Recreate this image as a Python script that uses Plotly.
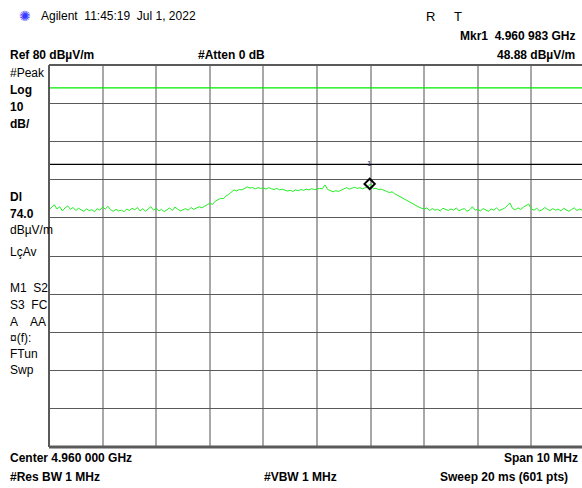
import numpy as np
import plotly.graph_objects as go

# Sweep settings
center_ghz = 4.960
span_mhz = 10.0
ref_level = 80.0
db_per_div = 10.0
display_line = 74.0
limit_line = 54.0
marker_freq_ghz = 4.960983
marker_level = 48.88

# Trace values (dBuV/m), uniformly spaced across the span
trace_dbuv = [
    42.1, 42.8, 43.4, 42.3, 42.9, 41.8, 42.6, 43.1, 42.2, 42.7,
    41.9, 42.5, 42.0, 41.7, 42.3, 41.9, 42.1, 41.6, 42.4, 42.0,
    42.8, 42.3, 43.0, 42.1, 41.7, 42.2, 41.8, 42.0, 41.6, 42.3,
    41.9, 42.5, 42.1, 42.7, 41.8, 42.4, 41.7, 42.2, 42.9, 42.0,
    42.5, 41.8, 42.2, 41.6, 42.1, 42.6, 41.9, 42.8, 42.3, 41.8,
    42.1, 42.4, 42.0, 42.7, 42.2, 42.5, 42.9, 42.6, 43.1, 43.4,
    43.8, 43.5, 44.3, 44.6, 45.1, 45.0, 45.7, 46.1, 46.6, 47.3,
    47.0, 47.4, 47.3, 47.7, 48.1, 47.8, 47.9, 47.6, 47.9, 47.7,
    47.8, 47.5, 47.9, 47.6, 47.4, 47.7, 47.3, 47.5, 47.2, 47.0,
    47.2, 46.9, 47.3, 47.1, 47.4, 47.2, 47.5, 47.3, 47.6, 47.4,
    47.5, 47.7, 47.6, 48.6, 47.4, 47.0, 46.8, 47.1, 46.9, 47.2,
    47.6, 47.9, 47.5, 47.8, 48.0, 47.7, 47.9, 47.6, 47.8, 48.1,
    48.9, 47.6, 47.7, 47.4, 47.5, 47.1, 46.9, 46.6, 46.8, 46.3,
    45.9, 45.6, 45.1, 44.8, 44.2, 43.9, 43.4, 43.1, 42.8, 42.5,
    42.3, 42.6, 41.9, 42.4, 42.0, 42.2, 41.8, 42.5, 42.1, 41.9,
    42.3, 42.0, 42.6, 41.8, 42.2, 42.4, 41.7, 42.1, 42.9, 42.0,
    42.2, 41.8, 42.4, 42.1, 41.7, 42.3, 42.0, 42.6, 41.9, 42.2,
    42.5, 43.2, 43.9, 42.4, 42.1, 42.6, 42.2, 42.8, 43.1, 43.6,
    42.3, 42.0, 42.5, 41.8, 42.1, 42.7, 42.2, 41.9, 42.4, 42.0,
    42.3, 41.8, 42.5, 42.1, 41.7, 42.2, 42.6, 41.9, 42.3, 42.0, 42.2,
]

f_start = center_ghz - span_mhz / 2 / 1000
f_stop = center_ghz + span_mhz / 2 / 1000
freqs = np.linspace(f_start, f_stop, len(trace_dbuv))

FONT = "Liberation Sans, Arial, sans-serif"
fig = go.Figure()

fig.add_trace(go.Scatter(x=[f_start, f_stop], y=[limit_line, limit_line], mode="lines",
                         line=dict(color="#000000", width=1.3), hoverinfo="skip"))
fig.add_trace(go.Scatter(x=[f_start, f_stop], y=[display_line, display_line], mode="lines",
                         line=dict(color="#00ee00", width=1.3), hoverinfo="skip"))
fig.add_trace(go.Scatter(x=freqs, y=trace_dbuv, mode="lines",
                         line=dict(color="#22ee22", width=1)))
fig.add_trace(go.Scatter(x=[marker_freq_ghz], y=[marker_level], mode="markers",
                         marker=dict(symbol="diamond-open", size=8, color="#000000",
                                     line=dict(width=2, color="#000000"))))

# visible x range: the screenshot is cropped slightly before the right edge
x_visible_stop = f_start + (582 - 49) / 536.0 * (f_stop - f_start)

fig.update_layout(
    width=582, height=488,
    margin=dict(l=49, r=0, t=65, b=41),
    paper_bgcolor="white", plot_bgcolor="white",
    showlegend=False,
    font=dict(family=FONT, size=12, color="#000000"),
    xaxis=dict(range=[f_start, x_visible_stop], tick0=f_start, dtick=0.001,
               showgrid=True, gridcolor="#a8a8a8", gridwidth=2,
               showticklabels=False, ticks="", zeroline=False, showline=False),
    yaxis=dict(range=[ref_level - 10 * db_per_div, ref_level], dtick=db_per_div,
               showgrid=True, gridcolor="#5a5a5a", gridwidth=1,
               showticklabels=False, ticks="", zeroline=False, showline=False),
    shapes=[
        dict(type="line", xref="paper", yref="paper", x0=0, x1=1, y0=1, y1=1,
             line=dict(color="#5a5a5a", width=2)),
        dict(type="line", xref="paper", yref="paper", x0=0, x1=1, y0=0, y1=0,
             line=dict(color="#5a5a5a", width=3)),
        dict(type="line", xref="paper", yref="paper", x0=0, x1=0, y0=0, y1=1,
             line=dict(color="#5a5a5a", width=2)),
    ],
)


def txt(x, y, s, bold=False, anchor="left", size=12, color="#000000"):
    fig.add_annotation(
        xref="paper", yref="paper",
        x=(x - 49) / 533.0, y=(447 - y) / 382.0,
        text=f"<b>{s}</b>" if bold else s, showarrow=False,
        xanchor=anchor, yanchor="middle",
        font=dict(family=FONT, size=size, color=color),
    )


# header
txt(25, 16, "✺", anchor="center", size=14, color="#3a3aff")
txt(39, 16, "Agilent  11:45:19  Jul 1, 2022", size=12)
txt(424, 16, "R", size=13)
txt(452, 16, "T", size=13)
txt(577, 36, "Mkr1  4.960 983 GHz", bold=True, anchor="right")
txt(8, 55, "Ref 80 dBµV/m", bold=True)
txt(196, 55, "#Atten 0 dB", bold=True)
txt(577, 55, "48.88 dBµV/m", bold=True, anchor="right")

# left column
for yy, s, b in [(73, "#Peak", False), (90, "Log", True), (107, "10", True),
                 (124, "dB/", True), (197, "Dl", True), (214, "74.0", True),
                 (230, "dBµV/m", False), (252, "LçAv", False),
                 (288, "M1  S2", False), (305, "S3  FC", False),
                 (322, "A    AA", False), (338, "¤(f):", False),
                 (354, "FTun", False), (370, "Swp", False)]:
    txt(8, yy, s, bold=b)

# footer
txt(8, 458, "Center 4.960 000 GHz", bold=True)
txt(580, 458, "Span 10 MHz", bold=True, anchor="right")
txt(8, 477, "#Res BW 1 MHz", bold=True)
txt(262, 477, "#VBW 1 MHz", bold=True)
txt(570, 477, "Sweep 20 ms (601 pts)", bold=True, anchor="right")

# marker number
fig.add_annotation(x=marker_freq_ghz, y=marker_level, text="1", showarrow=False,
                   yshift=20, font=dict(family=FONT, size=8, color="#303060"))

fig.write_html("out.html", config={"displayModeBar": False},
               post_script="document.body.style.margin='0';")
